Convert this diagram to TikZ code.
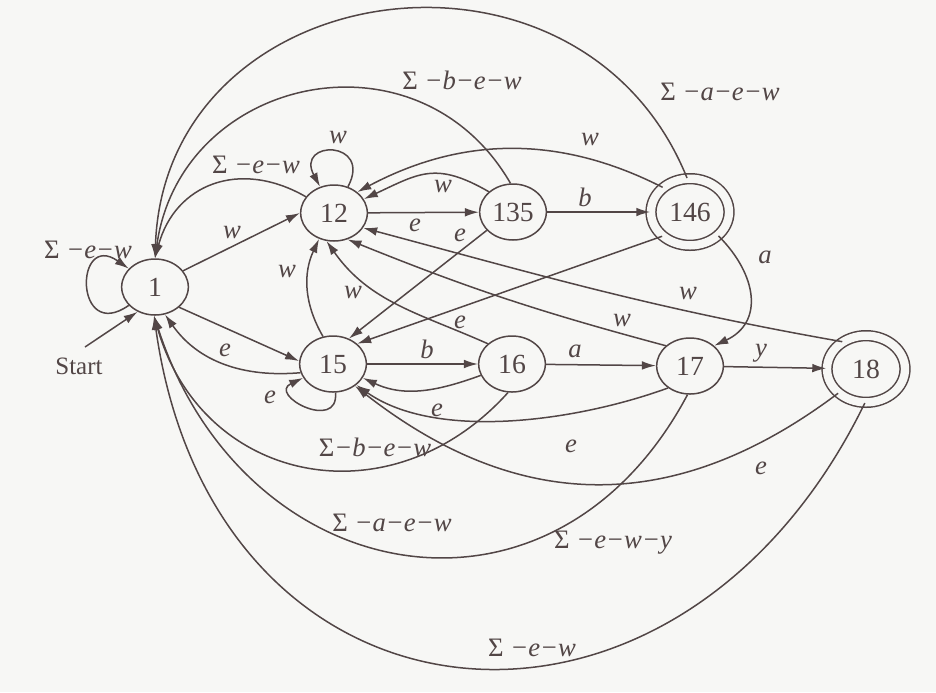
\documentclass[tikz,border=0pt]{standalone}
\usepackage{fontspec}
\setmainfont{Liberation Serif}
\usetikzlibrary{arrows.meta,shapes.geometric}

\definecolor{paper}{RGB}{247,247,245}
\definecolor{ink}{RGB}{82,70,70}

\begin{document}
\begin{tikzpicture}[x=0.3pt,y=0.3pt,>={Latex[length=4.2pt,width=2.6pt]},
  state/.style={ellipse,draw=ink,line width=0.45pt,minimum width=20pt,
    minimum height=16.8pt,inner sep=0pt,text=ink,font=\fontsize{8.3}{9}\selectfont},
  accept/.style={state,double=paper,double distance=2.5pt,
    minimum width=23.4pt,minimum height=20pt},
  lbl/.style={inner sep=0pt,text=ink,font=\fontsize{8}{9}\selectfont\itshape},
  tr/.style={->,draw=ink,line width=0.45pt}]

\useasboundingbox (0,0) rectangle (936,692);
\fill[paper] (0,0) rectangle (936,692);

% states
\node[state]  (n1)   at (155,405) {1};
\node[state]  (n12)  at (334,479) {12};
\node[state]  (n135) at (513,480) {135};
\node[accept] (n146) at (690,480) {146};
\node[state]  (n15)  at (333,328) {15};
\node[state]  (n16)  at (512,328) {16};
\node[state]  (n17)  at (690,326) {17};
\node[accept] (n18)  at (866,323) {18};

\node[text=ink,font=\fontsize{7.5}{9}\selectfont] (start) at (79,326) {Start};
\coordinate (s0) at (85,345);
\draw[tr] (s0) -- (n1.235);

% straight moves
\draw[tr] (n1.30) -- (n12.180);
\draw[tr] (n12) -- (n135);
\draw[tr] (n135) -- (n146);
\draw[tr] (n1.320) -- (n15.175);
\draw[tr] (n15) -- (n16);
\draw[tr] (n16) -- (n17);
\draw[tr] (n17) -- (n18);
\draw[tr] (n135.215) -- (n15.58);
\draw[tr] (n146.221) -- (n15.40);

% loops
\draw[tr] (n1) to[out=215,in=145,min distance=20pt] (n1);
\draw[tr] (n12) to[out=62,in=118,min distance=16pt] (n12);
\draw[tr] (n15) to[out=-85,in=205,min distance=12pt] (n15);

% back to 1, over the top
\draw[tr] (n12.150) to[out=150,in=75,looseness=1.2] (n1.90);
\draw[tr] (n135.95) to[out=120,in=82,looseness=1.3] (n1.90);
\draw[tr] (n146.95) to[out=112,in=88,looseness=1.36] (n1.90);

% back to 1, underneath
\draw[tr] (n15.195) to[out=185,in=-55] (n1.290);
\draw[tr] (n16.262) to[out=228,in=-74,looseness=1.24] (n1.268);
\draw[tr] (n17.265) to[out=242,in=-72,looseness=1.37] (n1.268);
\draw[tr] (n18.268) to[out=244,in=-82,looseness=1.55] (n1.268);

% w back to 12
\draw[tr] (n146.138) to[out=153,in=28,looseness=0.98] (n12.42);
\draw[tr] (n135.140) to[out=150,in=25,looseness=1.25] (n12.25);
\draw[tr] (n15.110) to[out=120,in=245] (n12.240);
\draw[tr] (n16.140) to[out=156,in=-55] (n12.255);
\draw[tr] (n17.140) to[out=165,in=-22] (n12.297);
\draw[tr] (n18.131) to[out=170,in=-15] (n12.333);

% e back to 15, a to 17
\draw[tr] (n16.200) to[out=200,in=-25] (n15.335);
\draw[tr] (n17.225) to[out=200,in=-35,looseness=0.8] (n15.318);
\draw[tr] (n18.221) to[out=217,in=-38,looseness=1.09] (n15.315);
\draw[tr] (n146.320) to[out=-45,in=25,looseness=1.28] (n17.40);

% labels
\node[lbl] (t1-1)    at (88,442)  {\textup{Σ} −e−w};
\node[lbl] (t1-12)   at (232,459) {w};
\node[lbl] (t12-1)   at (256,527) {\textup{Σ} −e−w};
\node[lbl] (t135-1)  at (462,612) {\textup{Σ} −b−e−w};
\node[lbl] (t146-1)  at (720,600) {\textup{Σ} −a−e−w};
\node[lbl] (t12-12)  at (338,554) {w};
\node[lbl] (t12-135) at (415,467) {e};
\node[lbl] (t135-12) at (443,505) {w};
\node[lbl] (t146-12) at (590,552) {w};
\node[lbl] (t135-146) at (585,495) {b};
\node[lbl] (t135-15) at (460,457) {e};
\node[lbl] (t146-15) at (460,370) {e};
\node[lbl] (t15-12)  at (287,420) {w};
\node[lbl] (t16-12)  at (353,400) {w};
\node[lbl] (t17-12)  at (622,372) {w};
\node[lbl] (t18-12)  at (688,399) {w};
\node[lbl] (t146-17) at (765,435) {a};
\node[lbl] (t1-15)   at (225,342) {e};
\node[lbl] (t15-15)  at (270,295) {e};
\node[lbl] (t15-16)  at (427,343) {b};
\node[lbl] (t16-17)  at (575,341) {a};
\node[lbl] (t17-18)  at (761,339) {y};
\node[lbl] (t16-15)  at (437,282) {e};
\node[lbl] (t17-15)  at (571,246) {e};
\node[lbl] (t18-15)  at (761,224) {e};
\node[lbl] (t16-1)   at (375,245) {\textup{Σ}−b−e−w};
\node[lbl] (t17-1a)  at (392,169) {\textup{Σ} −a−e−w};
\node[lbl] (t17-1b)  at (613,149) {\textup{Σ} −e−w−y};
\node[lbl] (t18-1)   at (532,44)  {\textup{Σ} −e−w};

\end{tikzpicture}
\end{document}
